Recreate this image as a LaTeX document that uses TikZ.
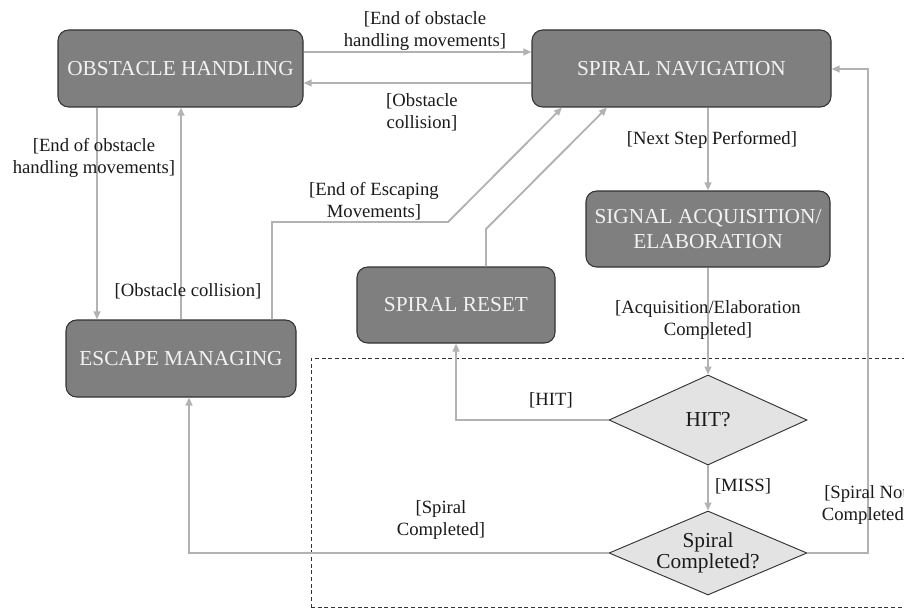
\documentclass[tikz,border=0pt]{standalone}
\usepackage{fontspec}
\setmainfont{Liberation Serif}
\usetikzlibrary{shapes.geometric,arrows.meta}
\definecolor{boxfill}{HTML}{7F7F7F}
\definecolor{boxline}{HTML}{333333}
\definecolor{boxtext}{HTML}{F2F2F2}
\definecolor{decfill}{HTML}{E3E3E3}
\definecolor{flow}{HTML}{B2B2B2}
\definecolor{ink}{HTML}{1A1A1A}

\begin{document}
\begin{tikzpicture}[x=0.75pt,y=-0.75pt,
  state/.style={draw=boxline, line width=0.8pt, fill=boxfill, rounded corners=8pt,
    text=boxtext, font=\fontsize{16}{19}\selectfont, align=center,
    inner sep=2pt, minimum height=57.75pt},
  decision/.style={diamond, aspect=2.36, draw=boxline, line width=0.7pt, fill=decfill,
    text=ink, font=\fontsize{16}{14}\selectfont, align=center,
    inner sep=0pt, minimum width=148.5pt},
  guard/.style={text=ink, font=\fontsize{14}{16.5}\selectfont, align=center, inner sep=0pt},
  flowarrow/.style={draw=flow, line width=1.4pt, -{Triangle[length=6pt,width=5pt]}},
  frame/.style={draw=boxline, line width=0.6pt, dash pattern=on 3pt off 2pt},
]
\useasboundingbox (0,0) rectangle (904,610);
\fill[white] (0,0) rectangle (904,610);

% dashed region around the decision part
\draw[frame] (311,607.5) -- (311,358) -- (920,358);
\draw[frame] (311,607.5) -- (920,607.5);

% states
\node[state, minimum width=183.75pt] (oh) at (180.5,68.5) {OBSTACLE HANDLING};
\node[state, minimum width=224.25pt] (sn) at (681.5,68.5) {SPIRAL NAVIGATION};
\node[state, minimum width=183pt, minimum height=57pt] (sa) at (708,229) {SIGNAL ACQUISITION/\\ELABORATION};
\node[state, minimum width=148.5pt, minimum height=57pt] (sr) at (456,305) {SPIRAL RESET};
\node[state, minimum width=172.5pt] (em) at (181,358.5) {ESCAPE MANAGING};
\node[decision, minimum height=67.5pt] (hit) at (708,420) {HIT?};
\node[decision, minimum height=63pt] (sc) at (708,553) {Spiral\\Completed?};

% routing helpers
\coordinate (eL) at (97,0);
\coordinate (eR) at (181,0);
\coordinate (eX) at (272,0);
\coordinate (bend1) at (448,222);
\coordinate (tip1) at (562,0);
\coordinate (rX) at (486,0);
\coordinate (bend2) at (486,229);
\coordinate (tip2) at (607,0);
\coordinate (scx) at (189,0);
\coordinate (rt) at (868,69);
\coordinate (hy1) at (0,52);
\coordinate (hy2) at (0,83);

% transitions
\draw[flowarrow] (oh.east |- hy1) -- (sn.west |- hy1);
\draw[flowarrow] (sn.west |- hy2) -- (oh.east |- hy2);
\draw[flowarrow] (oh.south -| eL) -- (em.north -| eL);
\draw[flowarrow] (em.north -| eR) -- (oh.south -| eR);
\draw[flowarrow] (em.north -| eX) |- (bend1) -- (sn.south -| tip1);
\draw[flowarrow] (sr.north -| rX) -- (bend2) -- (sn.south -| tip2);
\draw[flowarrow] (sa.north |- sn.south) -- (sa.north);
\draw[flowarrow] (sa.south) -- (hit.north);
\draw[flowarrow] (hit.west) -| (sr.south);
\draw[flowarrow] (hit.south) -- (sc.north);
\draw[flowarrow] (sc.west) -| (em.south -| scx);
\draw[flowarrow] (sc.east) -| (rt) -- (sn.east |- rt);

% guards
\node[guard] (g1) at (425,31) {[End of obstacle\\handling movements]};
\node[guard] (g2) at (422,112) {[Obstacle\\collision]};
\node[guard] (g3) at (94,158) {[End of obstacle\\handling movements]};
\node[guard] (g4) at (188,291) {[Obstacle collision]};
\node[guard] (g5) at (374,201) {[End of Escaping\\Movements]};
\node[guard] (g6) at (712,140) {[Next Step Performed]};
\node[guard] (g7) at (708,320) {[Acquisition/Elaboration\\Completed]};
\node[guard] (g8) at (551,400) {[HIT]};
\node[guard] (g9) at (743,486) {[MISS]};
\node[guard] (g10) at (866,505) {[Spiral Not\\Completed]};
\node[guard] (g11) at (441,520) {[Spiral\\Completed]};
\end{tikzpicture}
\end{document}
